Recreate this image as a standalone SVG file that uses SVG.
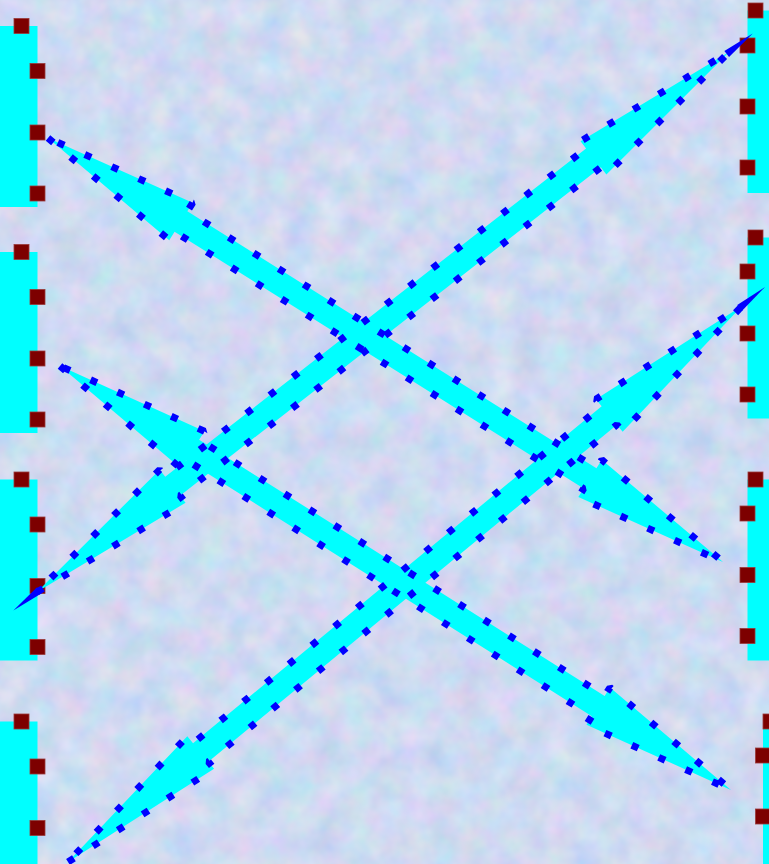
<svg xmlns="http://www.w3.org/2000/svg" xmlns:xlink="http://www.w3.org/1999/xlink" width="769" height="864" viewBox="0 0 769 864">
<style>
.node{fill:#00ffff}
.port{fill:#7d0000;stroke:#9a3a3a;stroke-width:0.8}
.cf{fill:#00ffff;stroke:none}
.cs{fill:none;stroke:#0000ff;stroke-width:7;stroke-dasharray:7 22.5;stroke-linejoin:bevel}
.spike{fill:#0000ff}
</style>
<defs>
<filter id="tex" x="0" y="0" width="769" height="864" filterUnits="userSpaceOnUse" color-interpolation-filters="sRGB">
<feTurbulence type="fractalNoise" baseFrequency="0.035" numOctaves="3" seed="7"/>
<feColorMatrix type="matrix" values="0.24 0 0 0 0.69  0 0.14 0 0 0.785  0 0 0.09 0 0.90  0 0 0 0 1"/>
</filter>
<polygon id="p1" points="0,0 157,22 157,12 640.1,12 640.1,22 797.1,0 640.1,-22 640.1,-12 157,-12 157,-22"/>
<polygon id="p2" points="0,0 157,22 157,12 636.7,12 636.7,22 793.7,0 636.7,-22 636.7,-12 157,-12 157,-22"/>
<polygon id="p3" points="0,0 172,21 172,12 705.8,12 705.8,21 877.8,0 705.8,-21 705.8,-12 172,-12 172,-21"/>
<polygon id="p4" points="0,0 172,21 172,12 701.7,12 701.7,21 873.7,0 701.7,-21 701.7,-12 172,-12 172,-21"/>
</defs>
<rect x="0" y="0" width="769" height="864" fill="#cfdaf4"/>
<rect x="0" y="0" width="769" height="864" filter="url(#tex)"/>

<g id="node-l1">
<rect class="node" x="0" y="26" width="37.5" height="181"/>
<rect class="port" x="14" y="18.5" width="15" height="15"/>
<rect class="port" x="30" y="63.5" width="15" height="15"/>
<rect class="port" x="30" y="125" width="15" height="15"/>
<rect class="port" x="30" y="186" width="15" height="15"/>
</g>
<g id="node-l2">
<rect class="node" x="0" y="252" width="37.5" height="181"/>
<rect class="port" x="14" y="244.5" width="15" height="15"/>
<rect class="port" x="30" y="289.5" width="15" height="15"/>
<rect class="port" x="30" y="351" width="15" height="15"/>
<rect class="port" x="30" y="412" width="15" height="15"/>
</g>
<g id="node-l3">
<rect class="node" x="0" y="479.5" width="37.5" height="181"/>
<rect class="port" x="14" y="472" width="15" height="15"/>
<rect class="port" x="30" y="517" width="15" height="15"/>
<rect class="port" x="30" y="578.5" width="15" height="15"/>
<rect class="port" x="30" y="639.5" width="15" height="15"/>
</g>
<g id="node-l4">
<rect class="node" x="0" y="721.5" width="37.5" height="181"/>
<rect class="port" x="14" y="714" width="15" height="15"/>
<rect class="port" x="30" y="759" width="15" height="15"/>
<rect class="port" x="30" y="820.5" width="15" height="15"/>
</g>
<g id="node-r1">
<rect class="node" x="747.5" y="10.5" width="22" height="182.5"/>
<rect class="port" x="748" y="3" width="15" height="15"/>
<rect class="port" x="740" y="38" width="15" height="15"/>
<rect class="port" x="740" y="99" width="15" height="15"/>
<rect class="port" x="740" y="160" width="15" height="15"/>
</g>
<g id="node-r2">
<rect class="node" x="747.5" y="237.5" width="22" height="181"/>
<rect class="port" x="748" y="230" width="15" height="15"/>
<rect class="port" x="740" y="264" width="15" height="15"/>
<rect class="port" x="740" y="326" width="15" height="15"/>
<rect class="port" x="740" y="387" width="15" height="15"/>
</g>
<g id="node-r3">
<rect class="node" x="747.5" y="479.5" width="22" height="181"/>
<rect class="port" x="748" y="472" width="15" height="15"/>
<rect class="port" x="740" y="506" width="15" height="15"/>
<rect class="port" x="740" y="567.5" width="15" height="15"/>
<rect class="port" x="740" y="628.5" width="15" height="15"/>
</g>
<g id="node-r4">
<rect class="node" x="763" y="721.5" width="10" height="181"/>
<rect class="port" x="763" y="714" width="15" height="15"/>
<rect class="port" x="755.5" y="748" width="15" height="15"/>
<rect class="port" x="755.5" y="809" width="15" height="15"/>
</g>

<g id="connectors">
<use xlink:href="#p1" class="cf" transform="translate(48,138) rotate(32.13)"/>
<use xlink:href="#p2" class="cf" transform="translate(60,366) rotate(32.29)"/>
<use xlink:href="#p3" class="cf" transform="translate(37,592) rotate(-37.96)"/>
<use xlink:href="#p4" class="cf" transform="translate(68,862) rotate(-39.52)"/>
<use xlink:href="#p1" class="cs" transform="translate(48,138) rotate(32.13)"/>
<use xlink:href="#p2" class="cs" transform="translate(60,366) rotate(32.29)"/>
<use xlink:href="#p3" class="cs" transform="translate(37,592) rotate(-37.96)"/>
<use xlink:href="#p4" class="cs" transform="translate(68,862) rotate(-39.52)"/>
<g transform="translate(37,592) rotate(-37.96)">
<polygon class="spike" points="-30,0 3,3.8 3,-3.8"/>
<polygon class="spike" points="907.8,0 874.8,3.8 874.8,-3.8"/>
</g>
<g transform="translate(68,862) rotate(-39.52)">
<polygon class="spike" points="903.7,0 870.7,3.8 870.7,-3.8"/>
</g>
</g>
</svg>
